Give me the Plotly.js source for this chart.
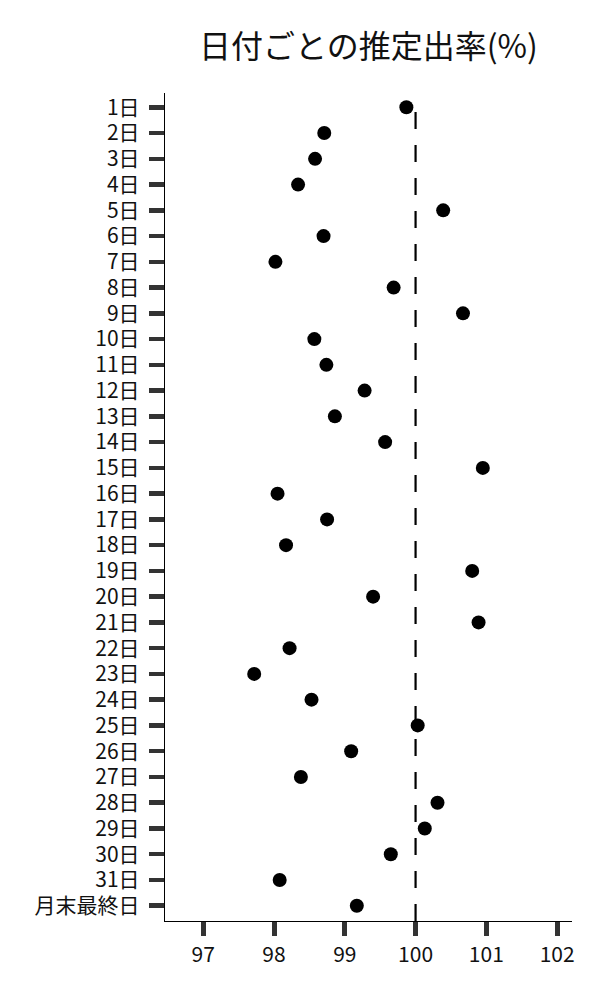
<!DOCTYPE html>
<html>
<head>
<meta charset="utf-8">
<script src="https://cdn.plot.ly/plotly-3.0.1.min.js"></script>
<style>
  html, body { margin: 0; padding: 0; background: #fff; }
  #chart { width: 600px; height: 1000px; }
</style>
</head>
<body>
<div id="chart"></div>
<script>
// 日付ラベル
const days = ['1日', '2日', '3日', '4日', '5日', '6日', '7日', '8日', '9日', '10日',
  '11日', '12日', '13日', '14日', '15日', '16日', '17日', '18日', '19日', '20日',
  '21日', '22日', '23日', '24日', '25日', '26日', '27日', '28日', '29日', '30日',
  '31日', '月末最終日'];

// 推定出率(%)
const rates = [99.87, 98.71, 98.58, 98.34, 100.39, 98.70, 98.02, 99.69, 100.67, 98.57,
  98.74, 99.28, 98.86, 99.57, 100.95, 98.05, 98.75, 98.17, 100.80, 99.40,
  100.89, 98.22, 97.72, 98.53, 100.03, 99.09, 98.38, 100.31, 100.13, 99.65,
  98.08, 99.17];

const xTicks = [97, 98, 99, 100, 101, 102];
const refLine = 100;

const font = 'Noto Sans CJK JP, Noto Sans, sans-serif';

let points =
{
  x: rates,
  y: days,
  type: 'scatter',
  mode: 'markers',
  marker: { color: '#000', size: 14 },
  hoverinfo: 'x+y'
};

let layout =
{
  width: 600,
  height: 1000,
  margin: { l: 165, r: 28, t: 93, b: 79 },
  paper_bgcolor: '#fff',
  plot_bgcolor: '#fff',
  showlegend: false,
  font: { family: font, size: 21, color: '#111' },
  title:
  {
    text: '日付ごとの推定出率(%)',
    font: { family: font, size: 32, color: '#111' },
    x: 0.5,
    xref: 'paper',
    xanchor: 'center',
    y: 43,
    yref: 'container',
    yanchor: 'middle'
  },
  xaxis:
  {
    range: [96.46, 102.21],
    autorange: false,
    tickvals: xTicks,
    ticktext: xTicks.map(String),
    ticks: 'outside',
    ticklen: 14,
    tickwidth: 5,
    tickcolor: '#333',
    ticklabelstandoff: 1,
    showgrid: false,
    zeroline: false,
    showline: true,
    linecolor: '#000',
    linewidth: 1.2,
    tickfont: { family: font, size: 21, color: '#111' }
  },
  yaxis:
  {
    type: 'category',
    categoryorder: 'array',
    categoryarray: days,
    range: [31.594, -0.556],
    autorange: false,
    ticks: 'outside',
    ticklen: 15,
    tickwidth: 4.5,
    tickcolor: '#333',
    ticklabelstandoff: 5,
    showgrid: false,
    zeroline: false,
    showline: true,
    linecolor: '#000',
    linewidth: 1.2,
    tickfont: { family: font, size: 21, color: '#111' }
  },
  shapes:
  [
    {
      type: 'line',
      xref: 'x',
      yref: 'paper',
      x0: refLine,
      x1: refLine,
      y0: 0,
      y1: 0.987,
      line: { color: '#000', width: 2.2, dash: '17px,16px' },
      layer: 'below'
    }
  ]
};

Plotly.newPlot('chart', [points], layout, { staticPlot: true, displayModeBar: false });
</script>
</body>
</html>
